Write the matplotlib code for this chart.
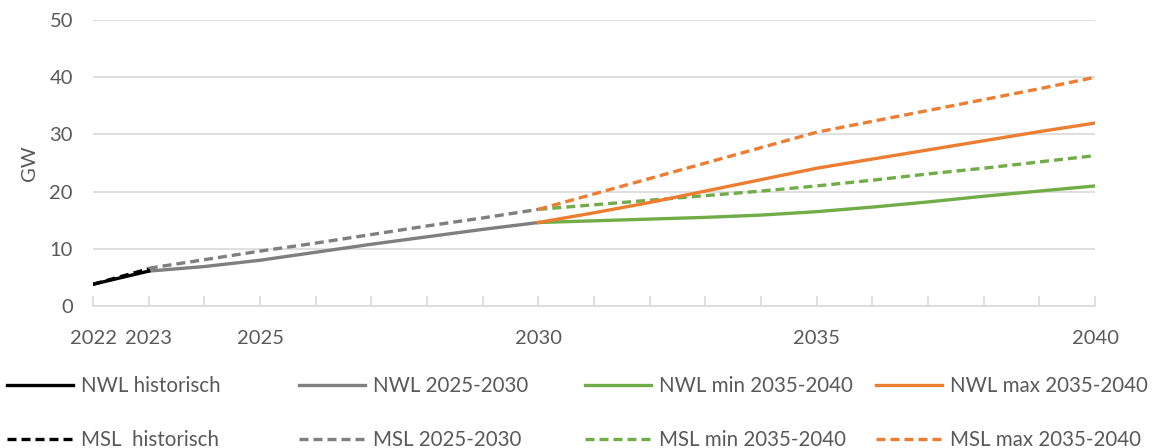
import matplotlib
matplotlib.use("Agg")
import matplotlib.pyplot as plt
from matplotlib.lines import Line2D

# ---------------------------------------------------------------
# data (GW)
# ---------------------------------------------------------------
years_hist = [2022, 2023]
nwl_hist = [3.8, 6.1]
msl_hist = [3.8, 6.5]

years_mid = [2023, 2024, 2025, 2026, 2027, 2028, 2029, 2030]
nwl_mid = [6.1, 6.9, 8.0, 9.4, 10.8, 12.1, 13.4, 14.6]
msl_mid = [6.6, 8.1, 9.6, 11.0, 12.5, 14.0, 15.4, 16.9]

years_late = [2030, 2031, 2032, 2033, 2034, 2035, 2036, 2037, 2038, 2039, 2040]
nwl_min = [14.6, 14.9, 15.2, 15.5, 15.9, 16.5, 17.3, 18.2, 19.2, 20.1, 21.0]
nwl_max = [14.6, 16.3, 18.1, 20.1, 22.1, 24.1, 25.7, 27.3, 28.9, 30.5, 32.0]
msl_min = [16.9, 17.7, 18.5, 19.3, 20.1, 21.0, 22.0, 23.1, 24.1, 25.2, 26.3]
msl_max = [16.9, 19.6, 22.3, 25.0, 27.7, 30.4, 32.3, 34.2, 36.1, 38.0, 40.0]

year_ticks = list(range(2022, 2041))
year_labels = ["2022", "2023", "2025", "2030", "2035", "2040"]
y_ticks = [0, 10, 20, 30, 40, 50]

# ---------------------------------------------------------------
# styling
# ---------------------------------------------------------------
plt.rcParams["font.family"] = ["Lato", "DejaVu Sans"]
FS = 14.5
FS_LEG = 14.8

BLACK = "#000000"
GREY = "#7F7F7F"
GREEN = "#70AD47"
ORANGE = "#ED7D31"
GRID = "#D9D9D9"
TXT = "#595959"
LW = 2.4
DASH = (2.7, 1.5)

fig = plt.figure(figsize=(11.53, 4.48), dpi=100)
ax = fig.add_axes([0.0807, 0.317, 0.869, 0.638])

ax.plot(years_mid, nwl_mid, color=GREY, lw=LW)
ax.plot(years_mid, msl_mid, color=GREY, lw=LW, ls=(0, DASH))
ax.plot(years_late, nwl_min, color=GREEN, lw=LW)
ax.plot(years_late, msl_min, color=GREEN, lw=LW, ls=(0, DASH))
ax.plot(years_late, nwl_max, color=ORANGE, lw=LW)
ax.plot(years_late, msl_max, color=ORANGE, lw=LW, ls=(0, DASH))
ax.plot(years_hist, nwl_hist, color=BLACK, lw=LW)
ax.plot(years_hist, msl_hist, color=BLACK, lw=LW, ls=(0, DASH))

ax.set_xlim(2022, 2040)
ax.set_ylim(0, 50)
ax.set_yticks(y_ticks)
ax.set_xticks(year_ticks)
ax.set_xticklabels([str(y) if str(y) in year_labels else "" for y in year_ticks])

for s in ["top", "right", "left"]:
    ax.spines[s].set_visible(False)
ax.spines["bottom"].set_color(GRID)
ax.spines["bottom"].set_linewidth(1.2)

ax.yaxis.grid(True, color=GRID, lw=1.2)
ax.set_axisbelow(True)
ax.tick_params(axis="x", direction="in", length=7, width=1.2, color=GRID,
               labelcolor=TXT, labelsize=FS, pad=17)
ax.tick_params(axis="y", length=0, labelcolor=TXT, labelsize=FS, pad=14.5)
ax.set_ylabel("GW", color=TXT, fontsize=FS, labelpad=8)

# ---------------------------------------------------------------
# legend: four columns, two rows
# ---------------------------------------------------------------
cols = [
    (7, [("NWL historisch", BLACK, "-"), ("MSL  historisch", BLACK, (0, DASH))]),
    (299, [("NWL 2025-2030", GREY, "-"), ("MSL 2025-2030", GREY, (0, DASH))]),
    (585, [("NWL min 2035-2040", GREEN, "-"), ("MSL min 2035-2040", GREEN, (0, DASH))]),
    (876, [("NWL max 2035-2040", ORANGE, "-"), ("MSL max 2035-2040", ORANGE, (0, DASH))]),
]
for x0, entries in cols:
    handles = [Line2D([0], [0], color=c, lw=LW, ls=ls) for _, c, ls in entries]
    labels = [lab for lab, _, _ in entries]
    fig.legend(handles, labels, loc="upper left",
               bbox_to_anchor=(x0 / 1153, 1 - 376 / 448),
               frameon=False, borderpad=0, borderaxespad=0,
               handlelength=3.2, handletextpad=0.42, labelspacing=1.65,
               labelcolor=TXT, fontsize=FS_LEG)

fig.savefig("out.png", dpi=100)
